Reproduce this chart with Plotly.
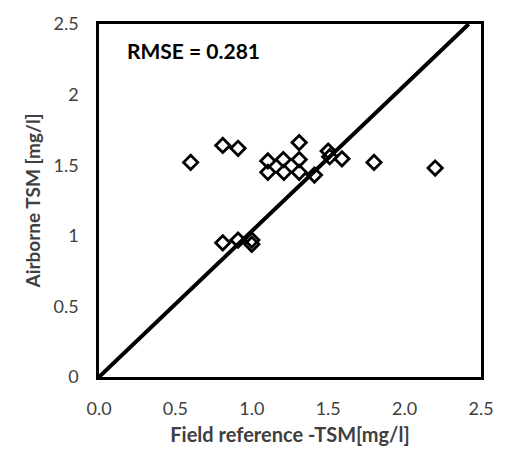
import plotly.graph_objects as go

# Field vs airborne TSM samples
field_tsm = [0.60, 0.81, 0.91, 1.31, 1.105, 1.206, 1.31, 1.105, 1.21, 1.31, 1.41,
             1.50, 1.51, 1.59, 1.80, 2.20, 0.81, 0.91, 1.00, 1.00]
airborne_tsm = [1.52, 1.64, 1.62, 1.66, 1.53, 1.54, 1.54, 1.45, 1.45, 1.45, 1.43,
                1.60, 1.56, 1.545, 1.52, 1.48, 0.95, 0.97, 0.97, 0.94]

# Reference line
line_x = [0.0, 2.42]
line_y = [0.0, 2.5]

x_ticks = [0.0, 0.5, 1.0, 1.5, 2.0, 2.5]
x_tick_text = ["0.0", "0.5", "1.0", "1.5", "2.0", "2.5"]
y_ticks = [0.0, 0.5, 1.0, 1.5, 2.0, 2.5]
y_tick_text = ["0", "0.5", "1", "1.5", "2", "2.5"]

rmse_label = "RMSE = 0.281"

FONT = "Lato, 'Open Sans', sans-serif"
TICK_COLOR = "#404040"

fig = go.Figure()
fig.add_trace(go.Scatter(
    x=field_tsm, y=airborne_tsm, mode="markers",
    marker=dict(symbol="diamond-open", size=11, color="black",
                line=dict(color="black", width=2.8)),
    showlegend=False,
))
fig.add_trace(go.Scatter(
    x=line_x, y=line_y, mode="lines",
    line=dict(color="black", width=4),
    showlegend=False,
))

fig.add_annotation(
    x=0.068, y=0.925, xref="paper", yref="paper",
    text="<b>" + rmse_label + "</b>", showarrow=False,
    xanchor="left", yanchor="middle",
    font=dict(family=FONT, size=21, color="black"),
)

axis_common = dict(
    showgrid=False, zeroline=False,
    showline=True, mirror=True, linecolor="black", linewidth=2.5,
    ticks="", tickfont=dict(family=FONT, size=18, color=TICK_COLOR),
    ticklabelstandoff=14,
)

fig.update_layout(
    width=506, height=455,
    margin=dict(l=99, r=20, t=15, b=78),
    paper_bgcolor="white", plot_bgcolor="white",
    xaxis=dict(
        range=[0, 2.5], tickvals=x_ticks, ticktext=x_tick_text,
        title=dict(text="<b>Field reference -TSM[mg/l]</b>",
                   font=dict(family=FONT, size=20, color=TICK_COLOR), standoff=10),
        **axis_common,
    ),
    yaxis=dict(
        range=[0, 2.5], tickvals=y_ticks, ticktext=y_tick_text,
        title=dict(text="<b>Airborne TSM [mg/l]</b>",
                   font=dict(family=FONT, size=19, color=TICK_COLOR), standoff=8),
        **axis_common,
    ),
)

fig.write_html("out.html")
